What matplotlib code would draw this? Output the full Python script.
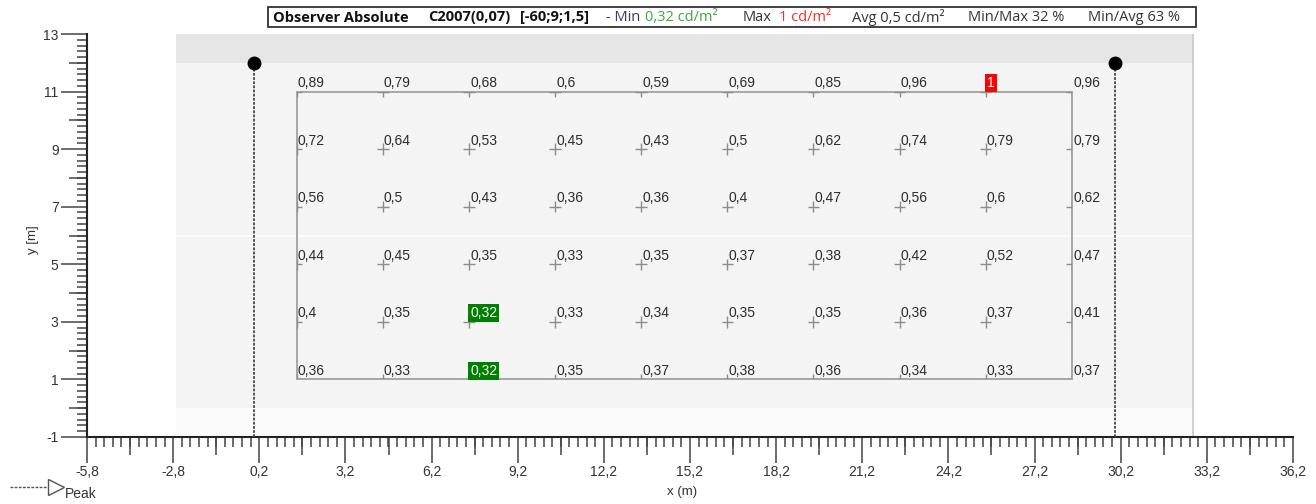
import matplotlib

matplotlib.use("Agg")
import matplotlib.pyplot as plt
import numpy as np
from matplotlib.collections import LineCollection
from matplotlib.lines import Line2D
from matplotlib.patches import Rectangle

plt.rcParams["font.family"] = ["Liberation Sans", "DejaVu Sans"]

# calculation grid (m) and luminance values (cd/m2), rows from top to bottom
grid_x = [1.5, 4.5, 7.5, 10.5, 13.5, 16.5, 19.5, 22.5, 25.5, 28.5]
grid_y = [11, 9, 7, 5, 3, 1]
luminance = [
    [0.89, 0.79, 0.68, 0.60, 0.59, 0.69, 0.85, 0.96, 1.00, 0.96],
    [0.72, 0.64, 0.53, 0.45, 0.43, 0.50, 0.62, 0.74, 0.79, 0.79],
    [0.56, 0.50, 0.43, 0.36, 0.36, 0.40, 0.47, 0.56, 0.60, 0.62],
    [0.44, 0.45, 0.35, 0.33, 0.35, 0.37, 0.38, 0.42, 0.52, 0.47],
    [0.40, 0.35, 0.32, 0.33, 0.34, 0.35, 0.35, 0.36, 0.37, 0.41],
    [0.36, 0.33, 0.32, 0.35, 0.37, 0.38, 0.36, 0.34, 0.33, 0.37],
]

# luminaires
pole_x = [0.0, 30.0]
pole_y = [12.0, 12.0]

# road layout
road_x = [-2.7, 32.7]
road_y = [0.0, 12.0]
kerb_y = [12.0, 13.0]
verge_y = [-1.0, 0.0]
lane_y = [6.0]

x_lim = (-5.8, 36.2)
y_lim = (-1.0, 13.0)

title_parts = [
    ("Observer Absolute", "#111111", "bold"),
    ("C2007(0,07)", "#111111", "bold"),
    ("[-60;9;1,5]", "#111111", "bold"),
    ("- Min", "#3a3a5c", "normal"),
    ("0,32 cd/m²", "#3fa63f", "normal"),
    ("Max", "#333333", "normal"),
    ("1 cd/m²", "#ff2a2a", "normal"),
    ("Avg 0,5 cd/m²", "#333333", "normal"),
    ("Min/Max 32 %", "#333333", "normal"),
    ("Min/Avg 63 %", "#333333", "normal"),
]


def fmt(v):
    s = f"{v:.2f}".rstrip("0").rstrip(".")
    return s.replace(".", ",")


W, H = 1316, 504
fig = plt.figure(figsize=(W / 100, H / 100), dpi=100)
ax = fig.add_axes([87 / W, 67 / H, 1206 / W, 403 / H])
ax.set_xlim(*x_lim)
ax.set_ylim(*y_lim)

# road surfaces
rw = road_x[1] - road_x[0]
ax.add_patch(Rectangle((road_x[0], verge_y[0]), rw, verge_y[1] - verge_y[0],
                       fc="#fbfbfb", ec="none", zorder=0))
ax.add_patch(Rectangle((road_x[0], road_y[0]), rw, road_y[1] - road_y[0],
                       fc="#f4f4f4", ec="none", zorder=0))
ax.add_patch(Rectangle((road_x[0], kerb_y[0]), rw, kerb_y[1] - kerb_y[0],
                       fc="#e6e6e6", ec="none", zorder=0))
for ly in lane_y:
    ax.plot(road_x, [ly, ly], color="white", lw=1.2, zorder=1)
ax.plot([road_x[1], road_x[1]], y_lim, color="#c8c8c8", lw=1.2, zorder=1)

# calculation field
fx0, fx1 = grid_x[0], grid_x[-1]
fy0, fy1 = grid_y[-1], grid_y[0]
field = Rectangle((fx0, fy0), fx1 - fx0, fy1 - fy0, fc="none", ec="#a6a6a6",
                  lw=1.4, zorder=2)
ax.add_patch(field)

arm = 0.2
segs = []
for gy in grid_y:
    for gx in grid_x:
        segs.append([(gx - arm, gy), (gx + arm, gy)])
        segs.append([(gx, gy - arm), (gx, gy + arm)])
crosses = LineCollection(segs, colors="#8c8c8c", linewidths=1.0, zorder=2)
ax.add_collection(crosses)
crosses.set_clip_path(field)

vals = np.array(luminance)
vmin, vmax = vals.min(), vals.max()
for row, gy in zip(luminance, grid_y):
    for v, gx in zip(row, grid_x):
        kw = dict(color="#2b2b2b")
        if v == vmin:
            kw = dict(color="white", bbox=dict(boxstyle="square,pad=0.15",
                                               fc="#008000", ec="none"))
        elif v == vmax:
            kw = dict(color="white", bbox=dict(boxstyle="square,pad=0.15",
                                               fc="#ff0000", ec="none"))
        ax.annotate(fmt(v), (gx, gy), xytext=(0.8, 3.2), textcoords="offset points",
                    ha="left", va="baseline", fontsize=10, zorder=4, **kw)

# poles
for px, py in zip(pole_x, pole_y):
    ax.plot([px, px], [y_lim[0], py], ls=(0, (1.5, 0.8)), color="#444444",
            lw=1.3, zorder=3)
ax.plot(pole_x, pole_y, "o", color="black", ms=9, zorder=5, ls="none")

# axes / ticks
for s in ("top", "right"):
    ax.spines[s].set_visible(False)
for s in ("left", "bottom"):
    ax.spines[s].set_linewidth(1.5)
    ax.spines[s].set_color("#222222")

x_major = np.arange(-5.8, 36.25, 3.0)
x_mid = np.arange(-4.3, 36.2, 3.0)
x_minor = np.arange(-5.8, 36.25, 0.3)
y_major = np.arange(-1, 13.1, 2)
y_mid = np.arange(0, 13, 2)
y_minor = np.arange(-1, 13.05, 0.2)

ax.set_xticks(x_major)
ax.set_xticklabels([fmt(round(v, 1)) for v in x_major])
ax.set_xticks(x_minor, minor=True)
ax.set_yticks(y_major)
ax.set_yticklabels([f"{int(v)}" for v in y_major])
ax.set_yticks(y_minor, minor=True)
ax.tick_params(which="major", length=19, width=1.1, color="#444444",
               labelsize=10, labelcolor="#333333", pad=1.5)
ax.tick_params(which="minor", length=7, width=1.1, color="#444444")

sx = ax.secondary_xaxis("bottom")
sx.set_xticks(x_mid)
sx.tick_params(length=13, width=1.1, color="#444444", labelbottom=False)
sx.spines["bottom"].set_visible(False)
sy = ax.secondary_yaxis("left")
sy.set_yticks(y_mid)
sy.tick_params(length=13, width=1.1, color="#444444", labelleft=False)
sy.spines["left"].set_visible(False)

fig.text(682 / W, 12 / H, "x (m)", ha="center", va="center", fontsize=9.5,
         color="#333333")
fig.text(33 / W, 264 / H, "y [m]", ha="center", va="center", rotation=90,
         fontsize=9.5, color="#333333")

# legend "Peak"
fig.add_artist(Line2D([10 / W, 49 / W], [17 / H, 17 / H], transform=fig.transFigure,
                      ls=(0, (2, 1)), color="#555555", lw=1.0))
fig.add_artist(Line2D([56 / W], [17 / H], transform=fig.transFigure, marker=">",
                      ms=11, mfc="white", mec="#555555", mew=1.0, ls="none"))
fig.text(65 / W, 10 / H, "Peak", ha="left", va="center", fontsize=10,
         color="#333333")

# title box
fig.add_artist(Rectangle((268 / W, (H - 27) / H), (1196 - 268) / W, 20 / H,
                         transform=fig.transFigure, fc="white", ec="#333333",
                         lw=1.3))
title_px = [273, 428, 520, 606, 645, 743, 779, 852, 968, 1088]
for (t, c, w), px in zip(title_parts, title_px):
    fig.text(px / W, (H - 17.5) / H, t, ha="left", va="center", color=c,
             fontweight=w, fontsize=10.5, family=["Open Sans", "DejaVu Sans"])

fig.savefig("out.png", dpi=100)
